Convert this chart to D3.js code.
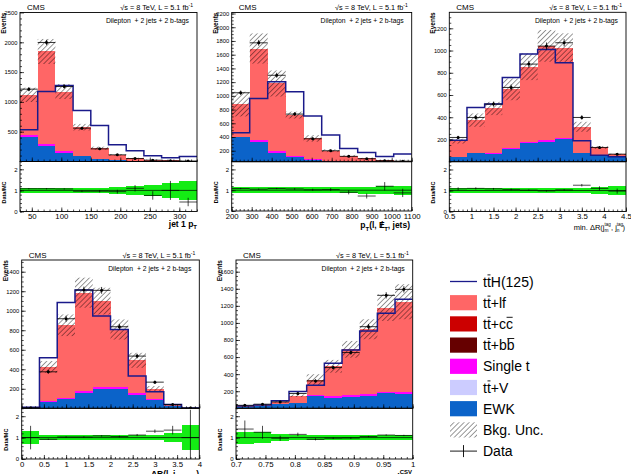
<!DOCTYPE html>
<html>
<head>
<meta charset="utf-8">
<script src="https://cdn.jsdelivr.net/npm/d3@7"></script>
<style>
  body { margin: 0; background: #fff; }
  svg { display: block; font-family: "Liberation Sans", Arial, sans-serif; }
</style>
</head>
<body>
<svg id="chart" width="631" height="474"></svg>
<script>
// ---- data (events per bin) ----
// panel 1 : jet 1 pT
var jet1pt_edges   = [30, 60, 90, 120, 150, 180, 210, 240, 270, 300, 330];
var jet1pt_ewk     = [408, 252, 140, 84, 39, 22, 12, 6, 4, 3];
var jet1pt_ttv     = [0, 0, 0, 0, 0, 0, 0, 0, 0, 0];
var jet1pt_singlet = [39, 44, 28, 16, 11, 6, 3, 2, 1, 1];
var jet1pt_ttbb    = [0, 0, 0, 0, 0, 0, 0, 0, 0, 0];
var jet1pt_ttcc    = [0, 0, 0, 0, 0, 0, 0, 0, 0, 0];
var jet1pt_ttlf    = [671, 1550, 1006, 476, 174, 84, 41, 20, 12, 11];
var jet1pt_unc     = [120, 210, 125, 55, 25, 14, 8, 5, 4, 4];
var jet1pt_data    = [1214, 1997, 1258, 559, 212, 112, 50, 22, 12, 8];
var jet1pt_tth     = [531, 1174, 1275, 856, 604, 280, 179, 95, 62, 84];
var jet1pt_ratio   = [1.08, 1.08, 1.07, 0.96, 0.96, 0.94, 1.1, 0.76, 1.0, 0.45];
var jet1pt_rerr    = [0.03, 0.03, 0.03, 0.04, 0.06, 0.09, 0.15, 0.2, 0.45, 0.2];
var jet1pt_band    = [0.13, 0.13, 0.13, 0.13, 0.13, 0.15, 0.2, 0.25, 0.35, 0.45];
var jet1pt_xticks  = [50, 100, 150, 200, 250, 300];
var jet1pt_yticks  = [500, 1000, 1500, 2000, 2500];

// panel 2 : pT(l, MET, jets)
var ptsys_edges   = [200, 290, 380, 470, 560, 650, 740, 830, 920, 1010, 1100];
var ptsys_ewk     = [394, 331, 162, 108, 64, 40, 25, 15, 10, 8];
var ptsys_ttv     = [0, 0, 0, 0, 0, 0, 0, 0, 0, 0];
var ptsys_singlet = [10, 25, 34, 22, 10, 5, 3, 2, 1, 1];
var ptsys_ttbb    = [0, 0, 0, 0, 0, 0, 0, 0, 0, 0];
var ptsys_ttcc    = [0, 0, 0, 0, 0, 0, 0, 0, 0, 0];
var ptsys_ttlf    = [476, 1334, 984, 590, 306, 155, 99, 71, 49, 36];
var ptsys_unc     = [180, 220, 190, 50, 48, 20, 12, 8, 6, 6];
var ptsys_data    = [1045, 1773, 1300, 734, 374, 200, 118, 84, 55, 48];
var ptsys_tth     = [462, 961, 1205, 1059, 705, 428, 233, 175, 117, 151];
var ptsys_ratio   = [1.08, 1.05, 1.08, 1.06, 1.02, 1.03, 0.9, 0.72, 1.19, 0.87];
var ptsys_rerr    = [0.03, 0.03, 0.03, 0.04, 0.05, 0.07, 0.1, 0.12, 0.2, 0.2];
var ptsys_band    = [0.15, 0.15, 0.15, 0.15, 0.15, 0.15, 0.15, 0.17, 0.2, 0.22];
var ptsys_xticks  = [200, 300, 400, 500, 600, 700, 800, 900, 1000, 1100];
var ptsys_yticks  = [200, 400, 600, 800, 1000, 1200, 1400, 1600, 1800, 2000, 2200];

// panel 3 : min dR(j_tag, j_tag)
var mindr_edges   = [0.5, 0.9, 1.3, 1.7, 2.1, 2.5, 2.9, 3.3, 3.7, 4.1, 4.5];
var mindr_ewk     = [38, 74, 68, 110, 164, 179, 200, 74, 50, 44];
var mindr_ttv     = [0, 0, 0, 0, 0, 0, 0, 0, 0, 0];
var mindr_singlet = [6, 6, 6, 9, 12, 15, 15, 6, 2, 1];
var mindr_ttbb    = [0, 0, 0, 0, 0, 0, 0, 0, 0, 0];
var mindr_ttcc    = [0, 0, 0, 0, 0, 0, 0, 0, 0, 0];
var mindr_ttlf    = [141, 294, 405, 532, 678, 848, 812, 234, 76, 21];
var mindr_unc     = [22, 60, 60, 98, 120, 143, 128, 45, 12, 6];
var mindr_data    = [218, 398, 518, 668, 878, 1040, 1070, 398, 128, 68];
var mindr_tth     = [194, 488, 518, 758, 968, 1010, 890, 188, 59, 44];
var mindr_ratio   = [1.08, 1.1, 1.08, 1.05, 1.02, 0.98, 1.03, 1.25, 1.1, 0.97];
var mindr_rerr    = [0.07, 0.05, 0.04, 0.04, 0.03, 0.03, 0.03, 0.06, 0.1, 0.12];
var mindr_band    = [0.12, 0.12, 0.12, 0.12, 0.12, 0.12, 0.12, 0.12, 0.15, 0.2];
var mindr_xticks  = [0.5, 1, 1.5, 2, 2.5, 3, 3.5, 4, 4.5];
var mindr_yticks  = [200, 400, 600, 800, 1000, 1200];

// panel 4 : dR(l, j)
var drlj_edges   = [0, 0.4, 0.8, 1.2, 1.6, 2.0, 2.4, 2.8, 3.2, 3.6, 4.0];
var drlj_ewk     = [2, 63, 91, 152, 200, 193, 132, 84, 22, 1];
var drlj_ttv     = [0, 0, 0, 0, 0, 0, 0, 0, 0, 0];
var drlj_singlet = [0, 10, 13, 24, 14, 21, 20, 7, 2, 0];
var drlj_ttbb    = [0, 0, 0, 0, 0, 0, 0, 0, 0, 0];
var drlj_ttcc    = [0, 0, 0, 0, 0, 0, 0, 0, 0, 0];
var drlj_ttlf    = [2, 351, 747, 1009, 885, 594, 340, 111, 8, 1];
var drlj_unc     = [1, 60, 111, 154, 137, 103, 77, 26, 6, 1];
var drlj_data    = [4, 374, 918, 1212, 1209, 836, 535, 268, 39, 2];
var drlj_tth     = [10, 518, 1085, 1212, 945, 808, 330, 169, 39, 2];
var drlj_ratio   = [1.0, 0.92, 1.03, 1.03, 1.08, 1.05, 1.12, 1.3, 1.35, 1.0];
var drlj_rerr    = [0.55, 0.03, 0.03, 0.03, 0.03, 0.04, 0.05, 0.08, 0.2, 1.3];
var drlj_band    = [0.3, 0.1, 0.1, 0.1, 0.1, 0.1, 0.1, 0.12, 0.2, 0.57];
var drlj_xticks  = [0, 0.5, 1, 1.5, 2, 2.5, 3, 3.5, 4];
var drlj_yticks  = [200, 400, 600, 800, 1000, 1200, 1400];

// panel 5 : CSV discriminant
var csv_edges   = [0.7, 0.73, 0.76, 0.79, 0.82, 0.85, 0.88, 0.91, 0.94, 0.97, 1.0];
var csv_ewk     = [17, 28, 48, 67, 145, 126, 138, 145, 177, 165];
var csv_ttv     = [0, 0, 0, 0, 0, 0, 0, 0, 0, 0];
var csv_singlet = [0, 0, 0, 0, 16, 19, 19, 20, 15, 27];
var csv_ttbb    = [0, 0, 0, 0, 0, 0, 0, 0, 0, 0];
var csv_ttcc    = [0, 0, 0, 0, 0, 0, 0, 0, 0, 0];
var csv_ttlf    = [11, 12, 27, 81, 170, 347, 534, 761, 987, 1056];
var csv_unc     = [4, 5, 8, 15, 68, 75, 98, 117, 156, 205];
var csv_data    = [35, 48, 75, 173, 321, 477, 653, 956, 1323, 1393];
var csv_tth     = [28, 40, 87, 196, 270, 528, 684, 905, 1113, 1276];
var csv_ratio   = [1.4, 1.25, 0.97, 1.15, 0.92, 0.97, 0.98, 1.05, 1.12, 1.1];
var csv_rerr    = [0.4, 0.3, 0.12, 0.08, 0.05, 0.04, 0.04, 0.03, 0.03, 0.03];
var csv_band    = [0.28, 0.25, 0.15, 0.12, 0.12, 0.1, 0.1, 0.12, 0.13, 0.12];
var csv_xticks  = [0.7, 0.75, 0.8, 0.85, 0.9, 0.95, 1];
var csv_yticks  = [200, 400, 600, 800, 1000, 1200, 1400, 1600];

// stack order, bottom to top
var keys = ["ewk", "ttv", "singlet", "ttbb", "ttcc", "ttlf"];
var colors = {ewk: "#0b63c9", ttv: "#ccccff", singlet: "#ff00ff",
              ttbb: "#660000", ttcc: "#cc0000", ttlf: "#ff6666"};
var tthColor = "#1a1a8a";
var bandColor = "#14ec14";

var svg = d3.select("#chart");
var defs = svg.append("defs");
defs.append("pattern")
    .attr("id", "hatch")
    .attr("patternUnits", "userSpaceOnUse")
    .attr("width", 3.6).attr("height", 3.6)
    .attr("patternTransform", "rotate(45)")
  .append("line")
    .attr("x1", 0).attr("y1", 0).attr("x2", 0).attr("y2", 3.6)
    .attr("stroke", "#000").attr("stroke-width", 0.8);

function pick(prefix) {
  var o = {};
  ["edges", "ewk", "ttv", "singlet", "ttbb", "ttcc", "ttlf", "unc", "data", "tth",
   "ratio", "rerr", "band", "xticks", "yticks"].forEach(function(k) {
    o[k] = window[prefix + "_" + k];
  });
  return o;
}

// frame geometry of each pad
var panels = [
  Object.assign(pick("jet1pt"), {L: 20, R: 197, T: 12.5, MB: 161.5, RB: 211.5,
    yDom: [0, 2500], xMinor: 10, yMinor: 100}),
  Object.assign(pick("ptsys"), {L: 231.7, R: 411.7, T: 12.5, MB: 161.7, RB: 211,
    yDom: [40, 2215], xMinor: 20, yMinor: 50}),
  Object.assign(pick("mindr"), {L: 449.3, R: 626, T: 12.3, MB: 161.7, RB: 211.5,
    yDom: [0, 1344], xMinor: 0.1, yMinor: 50}),
  Object.assign(pick("drlj"), {L: 21.7, R: 199.3, T: 260, MB: 408.3, RB: 459,
    yDom: [0, 1520], xMinor: 0.1, yMinor: 50}),
  Object.assign(pick("csv"), {L: 236, R: 412.7, T: 260, MB: 408.3, RB: 459,
    yDom: [0, 1737], xMinor: 0.01, yMinor: 50})
];

var fmt = d3.format("~g");

function drawPanel(p, idx) {
  var n = p.data.length;
  var x = d3.scaleLinear().domain([p.edges[0], p.edges[n]]).range([p.L, p.R]);
  var y = d3.scaleLinear().domain(p.yDom).range([p.MB, p.T]);
  var yr = d3.scaleLinear().domain([0, 2.37]).range([p.RB, p.MB]);

  var rows = d3.range(n).map(function(i) {
    var r = {};
    keys.forEach(function(k) { r[k] = p[k][i]; });
    return r;
  });
  var series = d3.stack().keys(keys)(rows);
  var total = rows.map(function(r) { return d3.sum(keys, function(k) { return r[k]; }); });

  defs.append("clipPath").attr("id", "cm" + idx).append("rect")
    .attr("x", p.L).attr("y", p.T).attr("width", p.R - p.L).attr("height", p.MB - p.T);
  defs.append("clipPath").attr("id", "cr" + idx).append("rect")
    .attr("x", p.L).attr("y", p.MB).attr("width", p.R - p.L).attr("height", p.RB - p.MB);

  // ---- main pad ----
  var g = svg.append("g").attr("clip-path", "url(#cm" + idx + ")");
  g.selectAll("g.layer").data(series).join("g")
      .attr("fill", function(s) { return colors[s.key]; })
    .selectAll("rect").data(function(s) { return s; }).join("rect")
      .attr("shape-rendering", "crispEdges")
      .attr("x", function(d, i) { return x(p.edges[i]); })
      .attr("width", function(d, i) { return x(p.edges[i + 1]) - x(p.edges[i]); })
      .attr("y", function(d) { return y(d[1]); })
      .attr("height", function(d) { return y(d[0]) - y(d[1]); });

  g.selectAll("rect.unc").data(total).join("rect")
      .attr("class", "unc")
      .attr("x", function(d, i) { return x(p.edges[i]); })
      .attr("width", function(d, i) { return x(p.edges[i + 1]) - x(p.edges[i]); })
      .attr("y", function(d, i) { return y(d + p.unc[i]); })
      .attr("height", function(d, i) { return y(d - p.unc[i]) - y(d + p.unc[i]); })
      .attr("fill", "url(#hatch)");

  var pts = p.tth.map(function(v, i) { return [p.edges[i], v]; });
  pts.push([p.edges[n], p.tth[n - 1]]);
  g.append("path")
      .attr("d", d3.line().x(function(d) { return x(d[0]); })
        .y(function(d) { return y(d[1]); }).curve(d3.curveStepAfter)(pts))
      .attr("fill", "none").attr("stroke", tthColor).attr("stroke-width", 1.5);

  var dg = g.selectAll("g.pt").data(p.data).join("g").attr("class", "pt");
  dg.append("line")
      .attr("x1", function(d, i) { return x(p.edges[i]); })
      .attr("x2", function(d, i) { return x(p.edges[i + 1]); })
      .attr("y1", function(d) { return y(d); }).attr("y2", function(d) { return y(d); })
      .attr("stroke", "#000").attr("stroke-width", 0.8);
  dg.append("line")
      .attr("x1", function(d, i) { return x((p.edges[i] + p.edges[i + 1]) / 2); })
      .attr("x2", function(d, i) { return x((p.edges[i] + p.edges[i + 1]) / 2); })
      .attr("y1", function(d) { return y(d + Math.sqrt(d)); })
      .attr("y2", function(d) { return y(d - Math.sqrt(d)); })
      .attr("stroke", "#000").attr("stroke-width", 0.8);
  dg.append("circle")
      .attr("cx", function(d, i) { return x((p.edges[i] + p.edges[i + 1]) / 2); })
      .attr("cy", function(d) { return y(d); })
      .attr("r", 1.5).attr("fill", "#000");

  // ---- ratio pad ----
  var gr = svg.append("g").attr("clip-path", "url(#cr" + idx + ")");
  gr.selectAll("rect.band").data(p.band).join("rect")
      .attr("class", "band")
      .attr("x", function(d, i) { return x(p.edges[i]); })
      .attr("width", function(d, i) { return x(p.edges[i + 1]) - x(p.edges[i]); })
      .attr("y", function(d) { return yr(1 + d); })
      .attr("height", function(d) { return yr(1 - d) - yr(1 + d); })
      .attr("fill", bandColor).attr("shape-rendering", "crispEdges");
  gr.append("line")
      .attr("x1", p.L).attr("x2", p.R).attr("y1", yr(1)).attr("y2", yr(1))
      .attr("stroke", "#000").attr("stroke-width", 0.7);
  var rg = gr.selectAll("g.rp").data(p.ratio).join("g").attr("class", "rp");
  rg.append("line")
      .attr("x1", function(d, i) { return x(p.edges[i]); })
      .attr("x2", function(d, i) { return x(p.edges[i + 1]); })
      .attr("y1", function(d) { return yr(d); }).attr("y2", function(d) { return yr(d); })
      .attr("stroke", "#000").attr("stroke-width", 0.7);
  rg.append("line")
      .attr("x1", function(d, i) { return x((p.edges[i] + p.edges[i + 1]) / 2); })
      .attr("x2", function(d, i) { return x((p.edges[i] + p.edges[i + 1]) / 2); })
      .attr("y1", function(d, i) { return yr(d + p.rerr[i]); })
      .attr("y2", function(d, i) { return yr(d - p.rerr[i]); })
      .attr("stroke", "#000").attr("stroke-width", 0.7);

  // ---- frames and axes ----
  [[p.T, p.MB], [p.MB, p.RB]].forEach(function(f) {
    svg.append("rect").attr("x", p.L).attr("y", f[0])
      .attr("width", p.R - p.L).attr("height", f[1] - f[0])
      .attr("fill", "none").attr("stroke", "#000").attr("stroke-width", 0.9);
  });

  var xMinor = d3.range(p.edges[0], p.edges[n] + p.xMinor / 2, p.xMinor);
  function clean(sel) { sel.select(".domain").remove(); sel.attr("font-family", null); }

  // main x (no labels)
  svg.append("g").attr("transform", "translate(0," + p.MB + ")")
    .call(d3.axisBottom(x).tickValues(p.xticks).tickSize(-4).tickFormat(""))
    .call(clean);
  svg.append("g").attr("transform", "translate(0," + p.MB + ")")
    .call(d3.axisBottom(x).tickValues(xMinor).tickSize(-2).tickFormat(""))
    .call(clean);
  // ratio x
  svg.append("g").attr("transform", "translate(0," + p.RB + ")")
    .call(d3.axisBottom(x).tickValues(p.xticks).tickSize(-4).tickPadding(2).tickFormat(fmt))
    .call(clean)
    .attr("font-size", 7.8);
  svg.append("g").attr("transform", "translate(0," + p.RB + ")")
    .call(d3.axisBottom(x).tickValues(xMinor).tickSize(-2).tickFormat(""))
    .call(clean);
  // main y
  var yMinor = d3.range(p.yMinor * Math.ceil(p.yDom[0] / p.yMinor), p.yDom[1], p.yMinor);
  svg.append("g").attr("transform", "translate(" + p.L + ",0)")
    .call(d3.axisLeft(y).tickValues(p.yticks).tickSize(-4).tickPadding(2.5).tickFormat(fmt))
    .call(clean)
    .attr("font-size", 5.8);
  svg.append("g").attr("transform", "translate(" + p.L + ",0)")
    .call(d3.axisLeft(y).tickValues(yMinor).tickSize(-2).tickFormat(""))
    .call(clean);
  // ratio y
  svg.append("g").attr("transform", "translate(" + p.L + ",0)")
    .call(d3.axisLeft(yr).tickValues([0, 1, 2]).tickSize(-4).tickPadding(2.5).tickFormat(fmt))
    .call(clean)
    .attr("font-size", 6);
  svg.append("g").attr("transform", "translate(" + p.L + ",0)")
    .call(d3.axisLeft(yr).tickValues(d3.range(0, 2.3, 0.2)).tickSize(-2).tickFormat(""))
    .call(clean);
  svg.selectAll(".tick line").attr("stroke-width", 0.7);

  // ---- texts ----
  svg.append("text").attr("x", p.L + 7).attr("y", p.T - 2.5)
    .attr("font-size", 8).text("CMS");
  var lumi = svg.append("text").attr("x", p.R - 4).attr("y", p.T - 2.5)
    .attr("font-size", 7.3).attr("text-anchor", "end");
  lumi.append("tspan").text("\u221As = 8 TeV, L = 5.1 fb");
  lumi.append("tspan").attr("dy", -3).attr("font-size", 5).text("-1");
  svg.append("text").attr("x", p.R - 8).attr("y", p.T + 10.5)
    .attr("font-size", 6.8).attr("text-anchor", "end")
    .attr("xml:space", "preserve").text("Dilepton  + 2 jets + 2 b-tags");
  svg.append("text")
    .attr("transform", "translate(" + (p.L - 14) + "," + p.T + ") rotate(-90)")
    .attr("text-anchor", "end").attr("font-size", 6.5).attr("font-weight", "bold")
    .text("Events");
  svg.append("text")
    .attr("transform", "translate(" + (p.L - 14) + "," + ((p.MB + p.RB) / 2 + 6) + ") rotate(-90)")
    .attr("text-anchor", "middle").attr("font-size", 5.5).attr("font-weight", "bold")
    .text("Data/MC");
}

panels.forEach(drawPanel);

// ---- x axis titles ----
// part: [text, dy, fontSize, dx]; dx "back" steps back over the previous part
function xTitle(xEnd, yBase, parts, size, weight) {
  var t = svg.append("text").attr("x", xEnd).attr("y", yBase).attr("text-anchor", "end")
    .attr("font-size", size).attr("font-weight", weight || "bold");
  var prev = null;
  parts.forEach(function(pt) {
    var s = t.append("tspan").text(pt[0]);
    if (pt[1]) s.attr("dy", pt[1]);
    if (pt[2]) s.attr("font-size", pt[2]);
    if (pt[3] === "back") s.attr("dx", -prev.node().getComputedTextLength());
    else if (pt[3]) s.attr("dx", pt[3]);
    prev = s;
  });
}
xTitle(197, 226.5, [["jet 1 p"], ["T", 2.5, 6]], 8.5);
xTitle(410, 228, [["p"], ["T", 2.5, 6], ["(l, E", -2.5], ["/", 0, 0, -4.2], ["T", 2.5, 6, 1.2], [", jets)", -2.5]], 8.5);
xTitle(625, 229.5, [["min. \u0394R(j"], ["tag", -3.2, 4.5], ["m", 5.8, 4.8, "back"], [", j", -2.6, 0, 2.5],
                    ["tag", -3.2, 4.5], ["n", 5.8, 4.8, "back"], [")", -2.6, 0, 3]], 7.5, "normal");
xTitle(199, 476.5, [["\u0394R(l, j"], ["closest", 3, 6], [")", -3]], 8.5);
xTitle(412, 480, [["d"], ["CSV", -6.5, 6]], 8.5);

// ---- legend ----
var legendItems = [
  {parts: [["t"], ["t", 1], ["H(125)"]], type: "line"},
  {parts: [["t"], ["t", 1], ["+lf"]], type: "box", color: colors.ttlf},
  {parts: [["t"], ["t", 1], ["+c"], ["c", 1]], type: "box", color: colors.ttcc},
  {parts: [["t"], ["t", 1], ["+b"], ["b", 1]], type: "box", color: colors.ttbb},
  {parts: [["Single t"]], type: "box", color: colors.singlet},
  {parts: [["t"], ["t", 1], ["+V"]], type: "box", color: colors.ttv},
  {parts: [["EWK"]], type: "box", color: colors.ewk},
  {parts: [["Bkg. Unc."]], type: "hatch"},
  {parts: [["Data"]], type: "data"}
];
var lg = svg.append("g");
legendItems.forEach(function(it, i) {
  var cy = 281.5 + i * 21.2;
  if (it.type === "line") {
    lg.append("line").attr("x1", 450).attr("x2", 477).attr("y1", cy).attr("y2", cy)
      .attr("stroke", tthColor).attr("stroke-width", 1.3);
  } else if (it.type === "box") {
    lg.append("rect").attr("x", 450).attr("y", cy - 7.6).attr("width", 27).attr("height", 15.2)
      .attr("fill", it.color);
  } else if (it.type === "hatch") {
    lg.append("rect").attr("x", 450).attr("y", cy - 7.6).attr("width", 27).attr("height", 15.2)
      .attr("fill", "url(#hatch)");
  } else {
    lg.append("line").attr("x1", 450).attr("x2", 477).attr("y1", cy).attr("y2", cy)
      .attr("stroke", "#000").attr("stroke-width", 0.9);
    lg.append("line").attr("x1", 463.5).attr("x2", 463.5).attr("y1", cy - 6).attr("y2", cy + 6)
      .attr("stroke", "#000").attr("stroke-width", 0.9);
  }
  var base = cy + 5;
  var t = lg.append("text").attr("x", 483).attr("y", base).attr("font-size", 14);
  var ci = 0, bars = [];
  it.parts.forEach(function(pt) {
    t.append("tspan").text(pt[0]);
    if (pt[1]) bars.push(ci);
    ci += pt[0].length;
  });
  // bar over the anti-particle letters
  bars.forEach(function(k) {
    var e = t.node().getExtentOfChar(k);
    lg.append("line").attr("x1", e.x + 0.6).attr("x2", e.x + e.width - 0.3)
      .attr("y1", base - 11.6).attr("y2", base - 11.6)
      .attr("stroke", "#000").attr("stroke-width", 0.9);
  });
});
</script>
</body>
</html>
